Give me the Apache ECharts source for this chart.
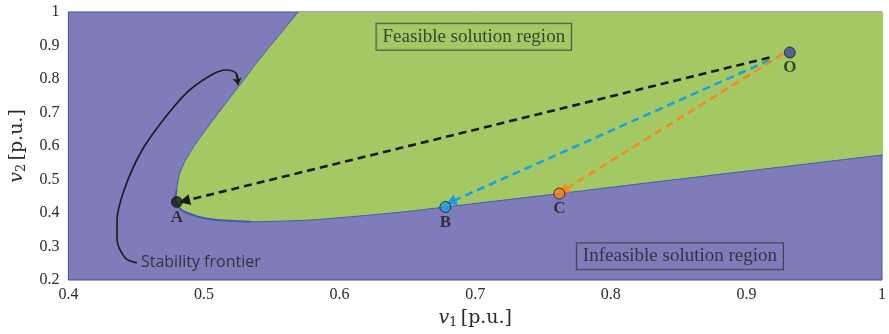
<!DOCTYPE html>
<html>
<head>
<meta charset="utf-8">
<script src="https://cdn.jsdelivr.net/npm/echarts@6/dist/echarts.min.js"></script>
<style>
  html, body { margin: 0; padding: 0; background: #fff; }
  #main { width: 889px; height: 334px; }
</style>
</head>
<body>
<div id="main"></div>
<script>
// boundary of the feasible region, [v1, v2]
var upperBranch = [[0.5896, 1.1], [0.5695, 1.0], [0.5544, 0.9262], [0.5390, 0.8494], [0.5251, 0.7756], [0.5134, 0.7137],
                   [0.5024, 0.6546], [0.4929, 0.6015], [0.4863, 0.5572], [0.4819, 0.5159], [0.4798, 0.4686], [0.4790, 0.4391]];
var lowerBranch = [[0.4834, 0.4087], [0.4956, 0.389], [0.5103, 0.379], [0.5346, 0.374], [0.5785, 0.379],
                   [0.644, 0.402], [0.678, 0.418], [0.762, 0.458], [0.813, 0.483], [1.0, 0.573], [1.1, 0.62]];
var corner = [[1.1, 1.1]];

// operating points
var pointNames = ['O', 'A', 'B', 'C'];
var pointValues = [[0.932, 0.879], [0.480, 0.433], [0.678, 0.418], [0.762, 0.458]];
var pointColors = ['#3d4a9e', '#1a1a1a', '#1a9ee0', '#f08519'];

// dashed trajectories from O (start, end)
var pathColors = ['#1a1a1a', '#1aa0e0', '#f28a1c'];
var pathStarts = [[0.917, 0.864], [0.917, 0.856], [0.927, 0.875]];
var pathEnds = [[0.4856, 0.436], [0.682, 0.433], [0.765, 0.467]];

// annotation curve "Stability frontier"
var frontierCurve = [[0.4505, 0.2511], [0.4419, 0.2658], [0.4359, 0.3201], [0.4359, 0.3791], [0.4419, 0.4775],
                     [0.4541, 0.5858], [0.4712, 0.6841], [0.4883, 0.7630], [0.5054, 0.8120], [0.5163, 0.8267],
                     [0.5237, 0.8170], [0.5253, 0.7824]];

var textNotes = [
  {text: 'Feasible solution region', value: [0.699, 0.926], bg: '#a4c964'},
  {text: 'Infeasible solution region', value: [0.851, 0.271], bg: '#7f7cb9'}
];

var serif = "'Liberation Serif', 'DejaVu Serif', serif";
var wideSerif = "'DejaVu Serif', serif";
var nameRich = {
  i: {fontFamily: wideSerif, fontStyle: 'italic', fontSize: 19, color: '#2a2a2a'},
  s: {fontFamily: wideSerif, fontSize: 13, color: '#2a2a2a', padding: [9, 0, 0, 0]},
  n: {fontFamily: wideSerif, fontSize: 19, color: '#2a2a2a'}
};
var chart = echarts.init(document.getElementById('main'));

var option = {
  animation: false,
  grid: {
    left: 66, right: 2, top: 12, bottom: 50,
    show: true, backgroundColor: '#7f7cb9', borderColor: '#3f4f9c', borderWidth: 1
  },
  xAxis: {
    type: 'value', min: 0.4, max: 1, interval: 0.1,
    axisLine: {show: false}, axisTick: {show: false}, splitLine: {show: false},
    axisLabel: {
      fontFamily: serif, fontSize: 16, color: '#2a2a2a', margin: 7,
      formatter: function (v) { return String(+v.toFixed(1)); }
    },
    name: '{i|v}{s|1} {n|[p.u.]}', nameLocation: 'middle', nameGap: 27,
    nameTextStyle: {rich: nameRich}
  },
  yAxis: {
    type: 'value', min: 0.2, max: 1, interval: 0.1,
    axisLine: {show: false}, axisTick: {show: false}, splitLine: {show: false},
    axisLabel: {
      fontFamily: serif, fontSize: 16, color: '#2a2a2a', margin: 9,
      formatter: function (v) { return String(+v.toFixed(1)); }
    },
    name: '{i|v}{s|2} {n|[p.u.]}', nameLocation: 'middle', nameGap: 36, nameRotate: 90,
    nameTextStyle: {rich: nameRich}
  },
  series: [
    {
      // feasible region polygon, clipped to the grid
      type: 'custom',
      data: [0],
      silent: true,
      clip: true,
      z: 1,
      renderItem: function (params, api) {
        var edgeData = upperBranch.concat(lowerBranch);
        var pts = edgeData.concat(corner).map(function (p) { return api.coord(p); });
        var edge = edgeData.map(function (p) { return api.coord(p); });
        var nose = upperBranch.slice(-2).concat(lowerBranch.slice(0, 4)).map(function (p) { return api.coord(p); });
        return {
          type: 'group',
          children: [
            {type: 'polygon', shape: {points: pts, smooth: 0.2}, style: {fill: '#a4c964', stroke: null}},
            {type: 'polyline', shape: {points: edge, smooth: 0.2}, style: {fill: null, stroke: '#4659b3', lineWidth: 1}},
            {type: 'polyline', shape: {points: nose, smooth: 0.2}, style: {fill: null, stroke: '#4659b3', lineWidth: 2}}
          ]
        };
      }
    },
    {
      type: 'line',
      data: frontierCurve,
      smooth: 0.3,
      symbol: 'none',
      z: 3,
      lineStyle: {color: '#1a1a1a', width: 1.6}
    },
    {
      type: 'lines',
      coordinateSystem: 'cartesian2d',
      z: 3,
      symbol: ['none', 'arrow'],
      symbolSize: 7,
      lineStyle: {color: '#1a1a1a', width: 1.4, opacity: 1},
      data: [{coords: [frontierCurve[10], frontierCurve[11]]}]
    },
    {
      type: 'lines',
      coordinateSystem: 'cartesian2d',
      z: 4,
      symbol: ['none', 'triangle'],
      symbolSize: 11,
      data: pathStarts.map(function (s, i) {
        return {
          coords: [s, pathEnds[i]],
          lineStyle: {color: pathColors[i], width: 2.6, type: [8, 5], opacity: 1}
        };
      })
    },
    {
      type: 'scatter',
      z: 5,
      symbolSize: 11,
      data: pointValues.map(function (v, i) {
        return {
          name: pointNames[i],
          value: v,
          itemStyle: {color: pointColors[i], borderColor: '#1a1a1a', borderWidth: 1}
        };
      }),
      label: {
        show: true, position: 'bottom', distance: 1,
        formatter: '{b}',
        fontFamily: serif, fontSize: 17, fontWeight: 'bold', color: '#1e1e1e'
      }
    },
    {
      type: 'scatter',
      z: 6,
      symbolSize: 0,
      silent: true,
      data: textNotes.map(function (t) {
        return {
          name: t.text,
          value: t.value,
          label: {
            show: true, position: 'inside', formatter: '{b}',
            fontFamily: serif, fontSize: 19, color: '#222',
            backgroundColor: t.bg, borderColor: '#333', borderWidth: 1,
            padding: [4, 6, 3, 6]
          }
        };
      })
    },
    {
      type: 'scatter',
      z: 6,
      symbolSize: 0,
      silent: true,
      data: [{name: 'Stability frontier', value: [0.4535, 0.252]}],
      label: {
        show: true, position: 'right', distance: 0, formatter: '{b}',
        fontFamily: "'Open Sans', sans-serif", fontSize: 16, color: '#1e1e1e'
      }
    }
  ]
};
chart.setOption(option);
</script>
</body>
</html>
